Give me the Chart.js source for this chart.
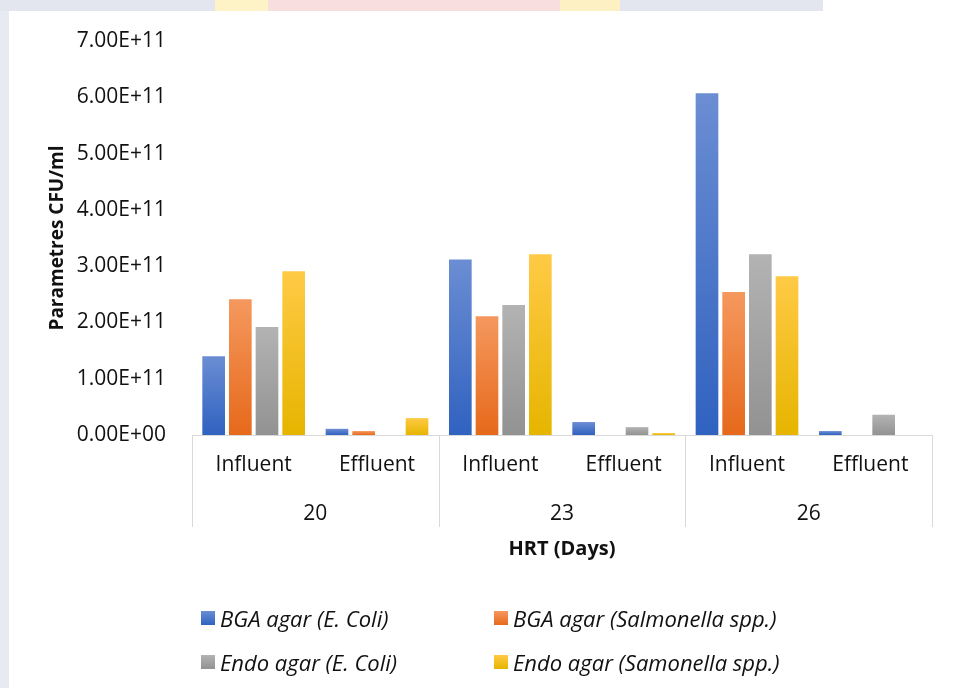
<!DOCTYPE html>
<html>
<head>
<meta charset="utf-8">
<script src="https://cdn.jsdelivr.net/npm/chart.js@4.4.1/dist/chart.umd.min.js"></script>
<style>
  html, body { margin: 0; padding: 0; }
  body { width: 955px; height: 688px; overflow: hidden; position: relative;
         background: #e8eaf1; font-family: "Open Sans", sans-serif; }
  #strip { position: absolute; left: 0; top: 0; width: 955px; height: 11px;
           background: linear-gradient(90deg, #e3e6ee 0 215px, #fdf3c6 215px 268px, #f8dede 268px 560px,
                       #fdf1c4 560px 620px, #e3e6ee 620px 823px, #ffffff 823px); }
  #card { position: absolute; left: 9px; top: 11px; right: 0; bottom: 0; background: #fff; }
  #wrap { position: absolute; left: 0; top: 0; width: 955px; height: 580px; }
  #legend { position: absolute; left: 0; top: 0; width: 955px; height: 688px; pointer-events: none; }
  .item { position: absolute; height: 30px; display: flex; align-items: center;
          font-style: italic; font-size: 22px; color: #111; white-space: nowrap; }
  .item i { display: inline-block; width: 14px; height: 14px; margin-right: 5px; }
</style>
</head>
<body>
<div id="strip"></div>
<div id="card"></div>
<div id="wrap"><canvas id="chart"></canvas></div>
<div id="legend"></div>
<script>
  // datos
  const categories = ["Influent", "Effluent", "Influent", "Effluent", "Influent", "Effluent"];
  const hrtDays = ["20", "23", "26"];
  const bgaEcoli       = [1.40e11, 1.1e10, 3.12e11, 2.3e10, 6.07e11, 7e9];
  const bgaSalmonella  = [2.41e11, 7e9,    2.11e11, 0,      2.54e11, 0];
  const endoEcoli      = [1.92e11, 0,      2.31e11, 1.4e10, 3.21e11, 3.6e10];
  const endoSalmonella = [2.91e11, 3.0e10, 3.21e11, 3.5e9,  2.82e11, 0];
  const seriesNames = ["BGA agar (E. Coli)", "BGA agar (Salmonella spp.)",
                       "Endo agar (E. Coli)", "Endo agar (Samonella spp.)"];
  const yMax = 7e11, yStep = 1e11;

  const FONT = "'Open Sans', sans-serif";

  // degradado por barra, como en Excel
  function barFill(top, bottom) {
    return c => {
      const chart = c.chart, y = chart.scales.y;
      if (!chart.chartArea || !y || !c.raw) return bottom;
      const y0 = y.getPixelForValue(0), y1 = y.getPixelForValue(c.raw);
      if (Math.abs(y0 - y1) < 1) return bottom;
      const g = chart.ctx.createLinearGradient(0, y1, 0, y0);
      g.addColorStop(0, top);
      g.addColorStop(1, bottom);
      return g;
    };
  }

  function sci(v) {
    if (v === 0) return "0.00E+00";
    const [m, e] = v.toExponential(2).split("e");
    const n = Math.abs(+e);
    return m + "E" + (+e < 0 ? "-" : "+") + (n < 10 ? "0" + n : n);
  }

  // lineas de agrupacion del eje
  const groupLines = {
    id: "groupLines",
    afterDraw(chart) {
      const { ctx, chartArea, scales: { x2 } } = chart;
      const n = hrtDays.length, w = (x2.right - x2.left) / n;
      ctx.save();
      ctx.strokeStyle = "#d9d9d9";
      ctx.lineWidth = 1;
      ctx.beginPath();
      for (let i = 0; i <= n; i++) {
        const px = Math.round(x2.left + i * w) + 0.5;
        ctx.moveTo(px, chartArea.bottom);
        ctx.lineTo(px, x2.top + 37);
      }
      ctx.stroke();
      ctx.restore();
    }
  };

  const colors = [
    ["#6b8dd3", "#3062c0"],
    ["#f5985e", "#e6691b"],
    ["#b3b3b3", "#929292"],
    ["#ffca45", "#e6b500"]
  ];
  const values = [bgaEcoli, bgaSalmonella, endoEcoli, endoSalmonella];

  const chart = new Chart(document.getElementById("chart"), {
    type: "bar",
    data: {
      labels: categories,
      datasets: values.map((v, i) => ({
        label: seriesNames[i],
        data: v,
        backgroundColor: barFill(colors[i][0], colors[i][1]),
        borderWidth: 0,
        categoryPercentage: 0.865,
        barPercentage: 0.85
      }))
    },
    options: {
      responsive: true,
      maintainAspectRatio: false,
      animation: false,
      layout: { padding: { top: 41, right: 23, bottom: 19, left: 0 } },
      plugins: { legend: { display: false }, tooltip: { enabled: false } },
      scales: {
        y: {
          min: 0, max: yMax,
          grid: { display: false, drawTicks: false },
          border: { display: false },
          ticks: { stepSize: yStep, padding: 26, color: "#111", callback: sci,
                   font: { family: FONT, size: 21 } },
          title: { display: true, text: "Parametres CFU/ml", color: "#111",
                   font: { family: FONT, size: 19, weight: "bold" }, padding: { top: 46, bottom: 0 } },
          afterFit: s => { s.width = 192; }
        },
        x: {
          weight: 0,
          grid: { display: false, drawTicks: false },
          border: { display: true, color: "#d9d9d9", width: 1 },
          ticks: { padding: 17, color: "#111", maxRotation: 0, autoSkip: false,
                   font: { family: FONT, size: 21 } },
          afterFit: s => { s.height = 55; }
        },
        x2: {
          type: "category",
          position: "bottom",
          weight: 1,
          labels: hrtDays,
          offset: true,
          grid: { display: false, drawTicks: false },
          border: { display: false },
          ticks: { padding: 11, color: "#111", maxRotation: 0, autoSkip: false,
                   font: { family: FONT, size: 21 } },
          title: { display: true, text: "HRT (Days)", color: "#111",
                   font: { family: FONT, size: 20, weight: "bold" }, padding: 0 },
          afterFit: s => { s.height = 71; }
        }
      }
    },
    plugins: [groupLines]
  });

  // leyenda en dos columnas
  const legend = document.getElementById("legend");
  const colX = [201, 494], rowY = [618, 662];
  chart.data.datasets.forEach((d, i) => {
    const el = document.createElement("div");
    el.className = "item";
    el.style.left = colX[i % 2] + "px";
    el.style.top = (rowY[Math.floor(i / 2)] - 15) + "px";
    el.innerHTML = `<i style="background:linear-gradient(${colors[i][0]},${colors[i][1]})"></i>${d.label}`;
    legend.appendChild(el);
  });
</script>
</body>
</html>
